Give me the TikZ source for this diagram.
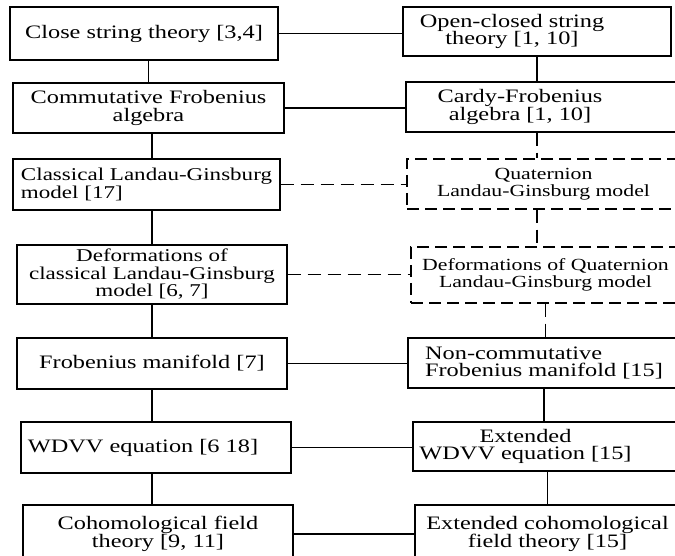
\documentclass[tikz,border=0pt]{standalone}
\usepackage{fontspec}
\setmainfont{Liberation Serif}[FakeStretch=1.28]
\usepackage{tikz}

\begin{document}
\begin{tikzpicture}[x=1pt, y=1pt,
  box/.style={draw, line width=1.3pt, align=center, inner sep=1pt, font=\fontsize{19}{17.5}\selectfont},
  dbox/.style={box, dash pattern=on 12pt off 6pt},
  txt/.style={align=center, inner sep=0pt, font=\fontsize{19}{17.5}\selectfont},
  mid/.style={font=\fontsize{18}{17.5}\selectfont},
  small/.style={font=\fontsize{17}{17.5}\selectfont},
  link/.style={line width=1.3pt},
  dlink/.style={link, dash pattern=on 13pt off 7pt}]

\useasboundingbox (0,0) rectangle (675,-556);
\clip (0,0) rectangle (675,-556);

\node[box, minimum width=268pt, minimum height=53pt] (close) at (144,-33.5) {Close string theory [3,4]};
\node[box, minimum width=271pt, minimum height=50pt] (comm) at (148.5,-108) {Commutative Frobenius\\algebra};
\node[box, mid, align=left, minimum width=267pt, minimum height=51pt] (classlg) at (146.5,-184.5) {Classical Landau-Ginsburg\\model [17]};
\node[box, mid, minimum width=270pt, minimum height=59pt] (defclass) at (152,-274.5) {Deformations of\\classical Landau-Ginsburg\\model [6, 7]};
\node[box, minimum width=270pt, minimum height=51pt] (frobman) at (152,-363.5) {Frobenius manifold [7]};
\node[box, minimum width=270pt, minimum height=51pt, label={[txt, xshift=-13pt]center:WDVV equation [6 18]}] (wdvv) at (156,-447.5) {};
\node[box, minimum width=270pt, minimum height=58pt] (cohft) at (158,-534) {Cohomological field\\theory [9, 11]};

\node[box, minimum width=268pt, minimum height=49pt, label={[txt, xshift=-25pt]center:{Open-closed string\\theory [1, 10]}}] (openclosed) at (537,-31.5) {};
\node[box, minimum width=274pt, minimum height=50pt, label={[txt, xshift=-23pt]center:{Cardy-Frobenius\\algebra [1, 10]}}] (cardy) at (543,-107) {};
\node[dbox, small, minimum width=273pt, minimum height=50pt] (quatlg) at (543.5,-184) {Quaternion\\Landau-Ginsburg model};
\node[dbox, small, minimum width=269pt, minimum height=56pt] (defquat) at (545.5,-275) {Deformations of Quaternion\\Landau-Ginsburg model};
\node[box, align=left, minimum width=272pt, minimum height=50pt] (noncomm) at (544,-363) {Non-commutative\\Frobenius manifold [15]};
\node[box, minimum width=267pt, minimum height=49pt, label={[txt, xshift=-21pt]center:{Extended\\WDVV equation [15]}}] (extwdvv) at (546.5,-446.5) {};
\node[box, minimum width=265pt, minimum height=58pt] (extcohft) at (547.5,-534) {Extended cohomological\\field theory [15]};

\draw[link] (close.south -| comm) -- (comm);
\draw[link] (comm.south -| defclass) -- (classlg.north -| defclass);
\draw[link] (classlg.south -| defclass) -- (defclass);
\draw[link] (defclass) -- (frobman);
\draw[link] (frobman) -- (frobman |- wdvv.north);
\draw[link] (wdvv.south -| frobman) -- (cohft.north -| frobman);

\draw[link] (openclosed) -- (openclosed |- cardy.north);
\draw[dlink] (cardy.south -| openclosed) -- (quatlg.north -| openclosed);
\draw[dlink] (quatlg.south -| openclosed) -- (defquat.north -| openclosed);
\draw[dlink] (defquat) -- (defquat |- noncomm.north);
\draw[link] (noncomm) -- (noncomm |- extwdvv.north);
\draw[link] (extwdvv.south -| extcohft) -- (extcohft);

\draw[link] (close) -- (close -| openclosed.west);
\draw[link] (comm) -- (comm -| cardy.west);
\draw[dlink] (classlg) -- (classlg -| quatlg.west);
\draw[dlink] (defclass) -- (defclass -| defquat.west);
\draw[link] (frobman) -- (frobman -| noncomm.west);
\draw[link] (wdvv) -- (wdvv -| extwdvv.west);
\draw[link] (cohft) -- (cohft -| extcohft.west);
\end{tikzpicture}
\end{document}
